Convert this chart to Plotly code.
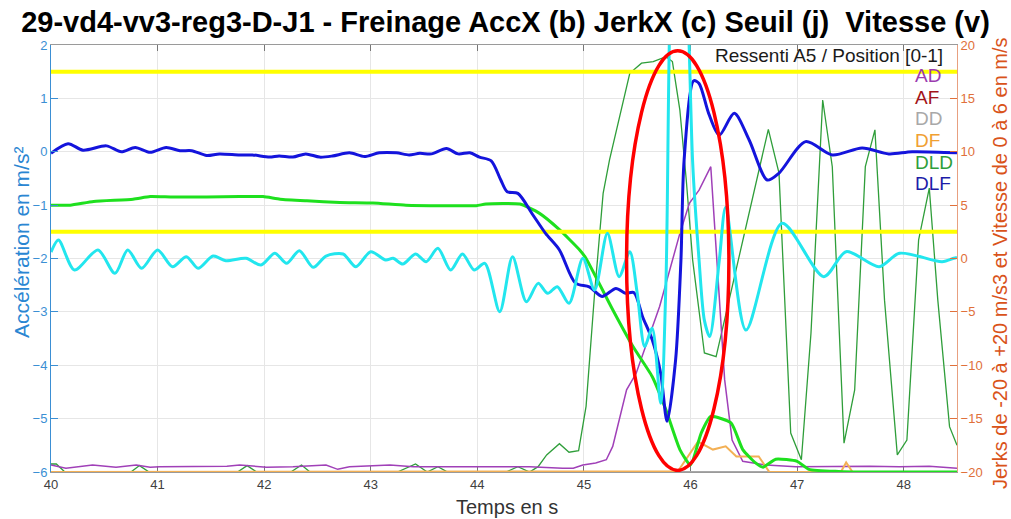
import plotly.graph_objects as go

# ---- Acceleration AccX (left axis, m/s²) ----
ACC_T = [40.00, 40.16, 40.30, 40.52, 40.66, 40.79, 40.93, 41.08, 41.21, 41.32,
         41.46, 41.58, 41.77, 41.89, 42.05, 42.14, 42.27, 42.39, 42.52, 42.64,
         42.80, 42.94, 43.08, 43.24, 43.36, 43.46, 43.57, 43.71, 43.82, 43.93,
         44.02, 44.13, 44.22, 44.28, 44.38, 44.52, 44.64, 44.77, 44.92, 45.05,
         45.17, 45.30, 45.39, 45.47, 45.55, 45.64, 45.72, 45.78, 45.86, 45.91,
         45.94, 46.03, 46.08, 46.17, 46.27, 46.41, 46.55, 46.72, 46.83, 47.08,
         47.33, 47.61, 47.86, 48.08, 48.50]
ACC_V = [-0.03, 0.15, 0.03, 0.11, 0.00, 0.08, -0.01, 0.08, 0.02, 0.02,
         -0.07, -0.04, -0.06, -0.06, -0.10, -0.08, -0.10, -0.04, -0.10, -0.08,
         -0.02, -0.09, -0.02, -0.02, -0.06, -0.03, -0.04, 0.06, -0.04, -0.02,
         -0.10, -0.17, -0.53, -0.75, -0.78, -1.18, -1.53, -1.84, -2.46, -2.53,
         -2.71, -2.56, -2.65, -2.64, -3.09, -3.52, -4.15, -5.05, -3.90, -2.03,
         -0.15, 1.33, 1.28, 0.72, 0.31, 0.72, 0.22, -0.53, -0.40, 0.19,
         -0.06, 0.07, -0.04, 0.00, -0.02]

# ---- Jerk JerkX (right axis, m/s3) ----
JERK_T = [40.00, 40.07, 40.22, 40.44, 40.60, 40.72, 40.85, 41.00, 41.14, 41.27,
          41.38, 41.52, 41.64, 41.83, 41.97, 42.10, 42.21, 42.33, 42.46, 42.58,
          42.74, 42.86, 43.00, 43.14, 43.21, 43.30, 43.42, 43.52, 43.63, 43.75,
          43.86, 43.97, 44.07, 44.21, 44.33, 44.46, 44.57, 44.66, 44.75, 44.86,
          44.99, 45.10, 45.22, 45.33, 45.43, 45.50, 45.57, 45.64, 45.72, 45.77,
          45.81, 45.86, 45.93, 45.98, 46.02, 46.08, 46.13, 46.18, 46.27, 46.33,
          46.52, 46.86, 47.25, 47.46, 47.77, 47.96, 48.36, 48.47, 48.50]
JERK_V = [0.6, 1.73, -1.08, 0.80, -1.39, 0.80, -0.92, 0.80, -0.77, 0.17,
          -0.92, 0.23, -0.20, 0.02, -0.61, 0.49, -0.45, 0.73, -0.83, 0.23,
          0.42, -0.77, 0.64, -0.14, 0.02, -0.52, 0.42, -0.30, 0.95, -1.08,
          0.42, -1.08, -0.45, -4.98, 0.17, -4.05, -2.33, -3.26, -2.64, -4.20,
          0.02, -2.95, 2.36, -1.70, 0.64, -3.26, -8.26, -6.54, -13.57, -2.0,
          24.0, 32.0, 32.0, 22.0, 9.0, -0.14, -5.8, -7.3, -0.14, 4.8,
          -6.7, 3.3, -1.7, 0.64, -0.77, 0.49, -0.30, 0.02, 0.10]

# ---- Speed (left axis scale) ----
SPEED_T = [40.00, 40.18, 40.40, 40.77, 40.93, 41.15, 41.77, 41.99, 42.15, 42.40,
           42.71, 43.02, 43.33, 43.68, 43.99, 44.08, 44.40, 44.58, 44.77, 44.96,
           45.02, 45.27, 45.46, 45.64, 45.77, 45.90, 46.00, 46.10, 46.19, 46.38,
           46.49, 46.61, 46.68, 46.80, 47.00, 47.11, 47.39, 47.58, 48.50]
SPEED_V = [-1.00, -1.00, -0.93, -0.89, -0.84, -0.85, -0.84, -0.84, -0.89, -0.92,
           -0.95, -0.96, -1.00, -1.01, -1.01, -0.98, -0.98, -1.15, -1.46, -1.84,
           -2.00, -2.96, -3.65, -4.21, -4.84, -5.58, -5.87, -5.27, -4.96, -5.08,
           -5.58, -5.83, -5.91, -5.76, -5.80, -5.95, -5.99, -6.00, -6.00]

# ---- Thresholds (left axis) ----
THRESHOLDS = [1.5, -1.5]

# ---- Ressenti A5 / Position [0-1] curves (drawn on the left axis scale) ----
BASE_T = [40.0, 48.5]
AF_V = [-6.0, -6.0]
DD_V = [-6.0, -6.0]
DLF_V = [-6.0, -6.0]

AD_T = [40.00, 40.14, 40.39, 40.61, 40.80, 40.93, 41.02, 41.65, 41.77, 42.02,
        42.27, 42.58, 42.69, 42.80, 43.18, 43.40, 44.18, 44.49, 44.80, 44.90,
        44.99, 45.11, 45.21, 45.27, 45.40, 45.49, 45.71, 45.90, 45.99, 46.08,
        46.19, 46.32, 46.39, 46.49, 46.71, 46.99, 47.68, 47.96, 48.24, 48.50]
AD_V = [-5.87, -5.93, -5.87, -5.91, -5.87, -5.91, -5.90, -5.89, -5.87, -5.91,
        -5.90, -5.87, -5.95, -5.90, -5.87, -5.90, -5.90, -5.90, -5.93, -5.93,
        -5.87, -5.83, -5.77, -5.52, -4.46, -4.15, -2.90, -1.53, -0.96, -0.72,
        -0.28, -4.27, -5.40, -5.80, -5.87, -5.90, -5.89, -5.90, -5.89, -5.93]

DF_T = [40.00, 45.85, 45.88, 46.07, 46.21, 46.33, 46.43, 46.64, 46.74, 47.41,
        47.46, 47.52, 48.50]
DF_V = [-6.00, -6.00, -5.99, -5.43, -5.58, -5.52, -5.71, -5.71, -6.00, -6.00,
        -5.82, -6.00, -6.00]

DLD_T = [40.00, 40.05, 40.13, 40.75, 40.83, 40.92, 41.75, 41.84, 41.93, 42.25,
         42.35, 42.43, 43.25, 43.42, 43.53, 43.63, 43.72, 44.27, 44.38, 44.49,
         44.57, 44.65, 44.77, 44.86, 44.95, 45.02, 45.10, 45.18, 45.24, 45.43,
         45.54, 45.65, 45.77, 45.83, 45.90, 45.96, 46.02, 46.13, 46.24, 46.39,
         46.52, 46.73, 46.83, 46.94, 47.04, 47.13, 47.24, 47.33, 47.44, 47.54,
         47.64, 47.73, 47.82, 47.94, 48.03, 48.14, 48.24, 48.32, 48.43, 48.50]
DLD_V = [-5.85, -5.85, -6.00, -6.00, -5.88, -6.00, -6.00, -5.88, -6.00, -6.00,
         -5.87, -6.00, -6.00, -5.85, -6.00, -5.90, -6.00, -6.00, -5.90, -6.00,
         -5.90, -5.68, -5.47, -5.63, -5.60, -4.77, -2.65, -0.78, -0.15, 1.47,
         1.66, 1.69, 1.78, 1.69, 0.78, -0.53, -2.03, -3.77, -3.84, -2.53,
         -1.40, 0.42, -0.40, -5.27, -5.77, -3.40, 0.97, -0.28, -5.46, -4.46,
         -0.28, 0.41, -2.78, -5.68, -5.40, -1.65, -0.68, -2.78, -5.15, -5.50]

LEGEND_NAMES = ["AD", "AF", "DD", "DF", "DLD", "DLF"]
LEGEND_COLORS = ["#9b3cb0", "#a3141a", "#a8a8a8", "#f0a032", "#2f9e3a", "#1c1ca8"]

# Highlighted braking window (ellipse)
HILITE_T = [45.40, 46.36]
HILITE_V = [-5.97, 1.89]

X_RANGE = [40, 48.5]
FONT = "Liberation Sans, Arial, sans-serif"
BLUE_AX = "#3b8fd4"
ORANGE_AX = "#e0703a"

fig = go.Figure()

# baseline ressenti curves (hidden ones first, DF ends up on top at the floor)
fig.add_trace(go.Scatter(x=BASE_T, y=DLF_V, mode="lines",
                         line=dict(color=LEGEND_COLORS[5], width=1.3)))
fig.add_trace(go.Scatter(x=BASE_T, y=AF_V, mode="lines",
                         line=dict(color=LEGEND_COLORS[1], width=1.3)))
fig.add_trace(go.Scatter(x=BASE_T, y=DD_V, mode="lines",
                         line=dict(color=LEGEND_COLORS[2], width=2)))
fig.add_trace(go.Scatter(x=DLD_T, y=DLD_V, mode="lines",
                         line=dict(color=LEGEND_COLORS[4], width=1.3)))
fig.add_trace(go.Scatter(x=AD_T, y=AD_V, mode="lines",
                         line=dict(color="#a040b8", width=1.5)))
fig.add_trace(go.Scatter(x=DF_T, y=DF_V, mode="lines",
                         line=dict(color="#f3b055", width=2)))

# speed
fig.add_trace(go.Scatter(x=SPEED_T, y=SPEED_V, mode="lines",
                         line=dict(color="#1ee01e", width=3, shape="spline", smoothing=0.5)))

# thresholds
for thr in THRESHOLDS:
    fig.add_trace(go.Scatter(x=X_RANGE, y=[thr, thr], mode="lines",
                             line=dict(color="#ffff00", width=4)))

# acceleration
fig.add_trace(go.Scatter(x=ACC_T, y=ACC_V, mode="lines",
                         line=dict(color="#1414dc", width=3, shape="spline", smoothing=0.8)))

# jerk on right axis
fig.add_trace(go.Scatter(x=JERK_T, y=JERK_V, mode="lines", yaxis="y2",
                         line=dict(color="#22e6ee", width=3, shape="spline", smoothing=0.8)))

fig.add_shape(type="circle", xref="x", yref="y",
              x0=HILITE_T[0], x1=HILITE_T[1], y0=HILITE_V[0], y1=HILITE_V[1],
              line=dict(color="#ff0000", width=3.5), layer="above")

PLOT_L, PLOT_R, PLOT_T, PLOT_B = 51, 957, 45, 472
W, H = 1011, 519


def px_x(px):
    return (px - PLOT_L) / (PLOT_R - PLOT_L)


def px_y(py):
    return 1 - (py - PLOT_T) / (PLOT_B - PLOT_T)


annotations = [
    dict(text="Accélération en m/s²", x=px_x(21), y=px_y(243), xref="paper", yref="paper",
         textangle=-90, showarrow=False, xanchor="center", yanchor="middle",
         font=dict(family=FONT, size=21, color="#2a86d2")),
    dict(text="Jerks de -20 à +20 m/s3 et Vitesse de 0 à 6 en m/s", x=px_x(1000), y=px_y(263),
         xref="paper", yref="paper", textangle=-90, showarrow=False,
         xanchor="center", yanchor="middle",
         font=dict(family=FONT, size=20, color="#d9531a")),
    dict(text="Temps en s", x=px_x(507), y=px_y(507), xref="paper", yref="paper",
         showarrow=False, xanchor="center", yanchor="middle",
         font=dict(family=FONT, size=20, color="#333333")),
    dict(text="Ressenti A5 / Position [0-1]", x=px_x(713), y=px_y(55), xref="paper", yref="paper",
         showarrow=False, xanchor="left", yanchor="middle",
         font=dict(family=FONT, size=19, color="#1a1a1a")),
]
for i, (name, col) in enumerate(zip(LEGEND_NAMES, LEGEND_COLORS)):
    annotations.append(dict(text=name, x=px_x(913), y=px_y(76 + 21.5 * i),
                            xref="paper", yref="paper", showarrow=False,
                            xanchor="left", yanchor="middle",
                            font=dict(family=FONT, size=19, color=col)))

fig.update_layout(
    width=W, height=H,
    margin=dict(l=PLOT_L, r=W - PLOT_R, t=PLOT_T, b=H - PLOT_B),
    paper_bgcolor="white", plot_bgcolor="white",
    showlegend=False,
    font=dict(family=FONT),
    title=dict(text="<b>29-vd4-vv3-reg3-D-J1 - Freinage AccX (b) JerkX (c) Seuil (j)  Vitesse (v)</b>",
               x=0.5, xref="container", xanchor="center",
               y=1 - 22 / H, yref="container", yanchor="middle",
               font=dict(family=FONT, size=29, color="#000000")),
    xaxis=dict(range=X_RANGE, tick0=40, dtick=1, showgrid=True, gridcolor="#e6e6e6",
               ticks="inside", ticklen=6, tickcolor="#777777", showline=True,
               linecolor="#9a9a9a", mirror="ticks", zeroline=False, layer="below traces",
               tickfont=dict(family=FONT, size=13, color="#404040")),
    yaxis=dict(range=[-6, 2], tick0=-6, dtick=1, showgrid=True, gridcolor="#e6e6e6",
               ticks="inside", ticklen=7, tickcolor=BLUE_AX, showline=True,
               linecolor=BLUE_AX, zeroline=False,
               tickfont=dict(family=FONT, size=13, color=BLUE_AX)),
    yaxis2=dict(range=[-20, 20], tick0=-20, dtick=5, overlaying="y", side="right",
                showgrid=False, ticks="inside", ticklen=7, tickcolor=ORANGE_AX,
                showline=True, linecolor="#e8a080", zeroline=False,
                tickfont=dict(family=FONT, size=13, color=ORANGE_AX)),
    annotations=annotations,
)

fig.write_html("out.html")
